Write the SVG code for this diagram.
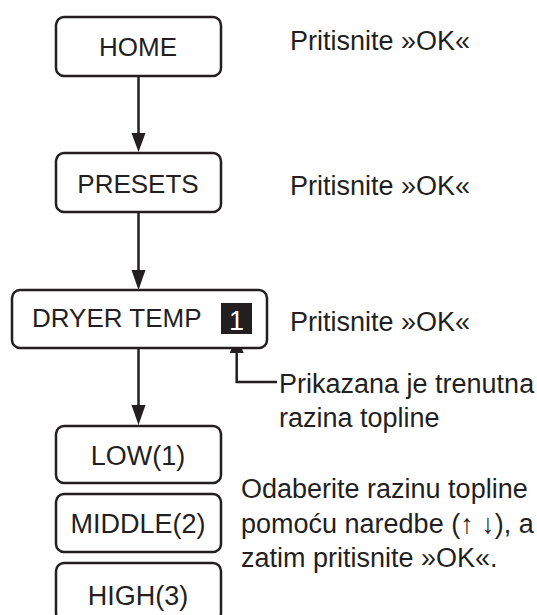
<svg xmlns="http://www.w3.org/2000/svg" width="537" height="615" viewBox="0 0 537 615">
<defs>
<style>
.box{fill:#fff;stroke:#231f20;stroke-width:2.5}
.t{font-family:"Liberation Sans",Arial,sans-serif;font-size:27px;fill:#231f20}
.b{font-size:26px}
.c{text-anchor:middle}
.ln{fill:none;stroke:#231f20;stroke-width:2.5}
.ah{fill:#231f20}
</style>
</defs>
<rect width="537" height="615" fill="#fff"/>
<g id="connectors">
<line class="ln" x1="138.5" y1="76" x2="138.5" y2="134"/>
<polygon class="ah" points="131.5,133 145.5,133 138.5,152"/>
<line class="ln" x1="138.5" y1="212" x2="138.5" y2="271"/>
<polygon class="ah" points="131.5,270 145.5,270 138.5,290"/>
<line class="ln" x1="138.5" y1="348" x2="138.5" y2="406"/>
<polygon class="ah" points="131.5,405 145.5,405 138.5,425"/>
<polyline class="ln" points="277,382 236.7,382 236.7,352"/>
<polygon class="ah" points="229.7,353 243.7,353 236.7,336"/>
</g>
<g id="home">
<rect class="box" x="56" y="17" width="165" height="59" rx="8"/>
<text class="t b c" x="138" y="56">HOME</text>
</g>
<g id="presets">
<rect class="box" x="56" y="153" width="165" height="59" rx="8"/>
<text class="t b c" x="138" y="193">PRESETS</text>
</g>
<g id="dryer-temp">
<rect class="box" x="12" y="290" width="255" height="58" rx="8"/>
<text class="t b" x="32" y="327">DRYER TEMP</text>
<rect x="221" y="303" width="31" height="31" fill="#231f20"/>
<text class="t c" x="236.5" y="330" style="fill:#fff">1</text>
</g>
<g id="low">
<rect class="box" x="56" y="426" width="165" height="57" rx="8"/>
<text class="t c" x="138" y="465">LOW(1)</text>
</g>
<g id="middle">
<rect class="box" x="56" y="494" width="165" height="58" rx="8"/>
<text class="t c" x="138" y="533">MIDDLE(2)</text>
</g>
<g id="high">
<rect class="box" x="56" y="563" width="165" height="58" rx="8"/>
<text class="t c" x="138" y="605">HIGH(3)</text>
</g>
<g id="notes">
<text class="t" x="290" y="50">Pritisnite »OK«</text>
<text class="t" x="290" y="195">Pritisnite »OK«</text>
<text class="t" x="290" y="331">Pritisnite »OK«</text>
<text class="t" x="279" y="393">Prikazana je trenutna</text>
<text class="t" x="279" y="427">razina topline</text>
<text class="t" x="241" y="498">Odaberite razinu topline</text>
<text class="t" x="241" y="533">pomoću naredbe (↑ ↓), a</text>
<text class="t" x="241" y="567">zatim pritisnite »OK«.</text>
</g>
</svg>
